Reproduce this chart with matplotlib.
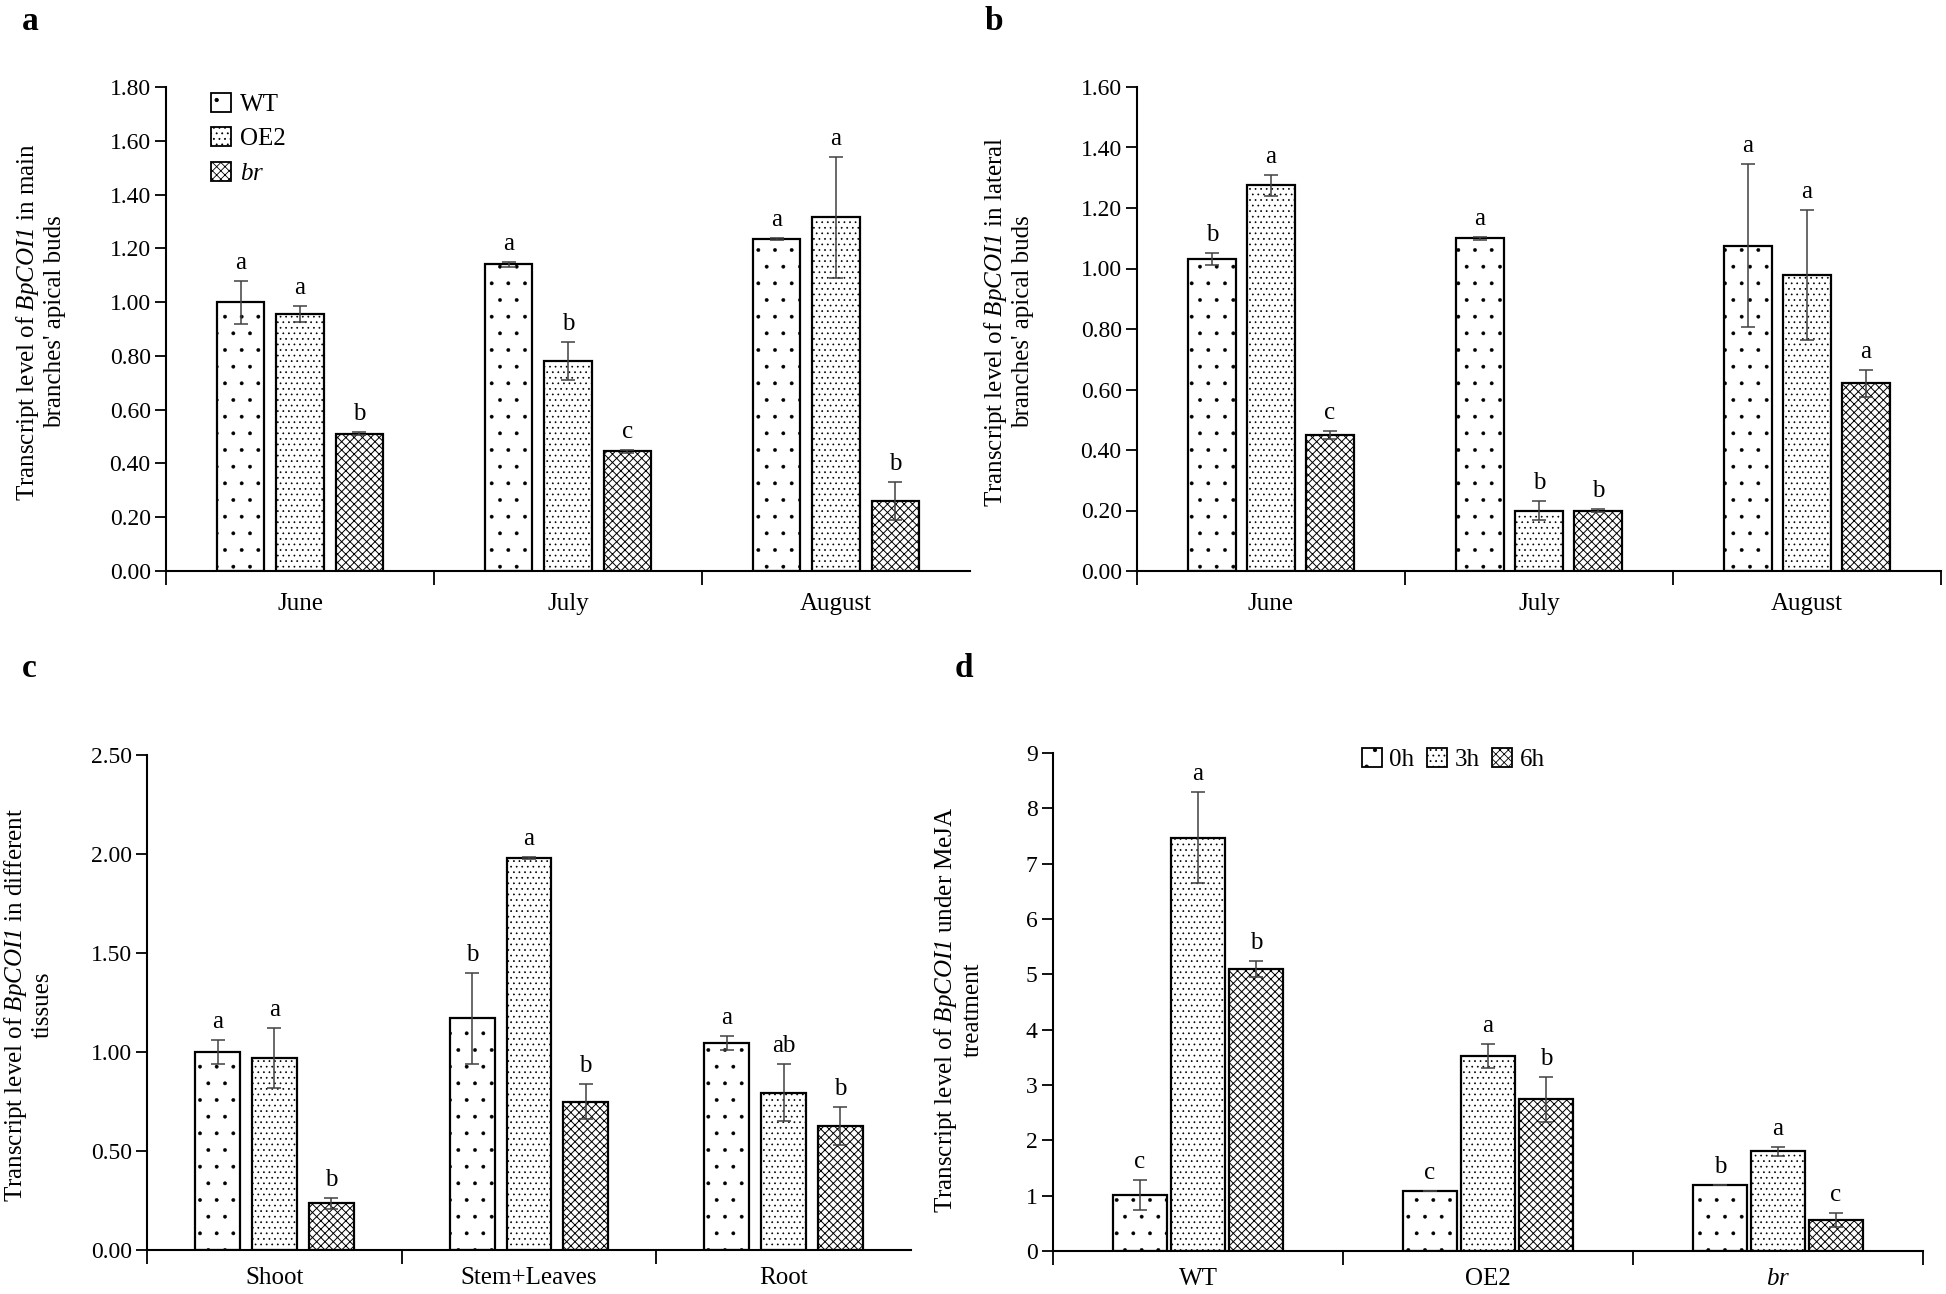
import matplotlib
matplotlib.use('Agg')
import matplotlib.pyplot as plt
import numpy as np
from matplotlib.patches import Patch

plt.rcParams['font.family'] = ['Liberation Serif', 'DejaVu Serif']
plt.rcParams['mathtext.fontset'] = 'custom'
plt.rcParams['mathtext.rm'] = 'Liberation Serif'
plt.rcParams['mathtext.it'] = 'Liberation Serif:italic'
plt.rcParams['mathtext.bf'] = 'Liberation Serif:italic'
plt.rcParams['hatch.linewidth'] = 0.6

# ---------------- data ----------------
months = ['June', 'July', 'August']
tissues = ['Shoot', 'Stem+Leaves', 'Root']
lines_d = ['WT', 'OE2', r'$\mathit{br}$']
series_abc = ['WT', 'OE2', r'$\mathit{br}$']
series_d = ['0h', '3h', '6h']

# panel a: main branches' apical buds
a_vals = [[1.00, 1.14, 1.235],   # WT
          [0.955, 0.78, 1.315],  # OE2
          [0.51, 0.445, 0.26]]   # br
a_errs = [[0.08, 0.01, 0.005],
          [0.03, 0.07, 0.225],
          [0.006, 0.006, 0.07]]
a_letters = [['a', 'a', 'a'],
             ['a', 'b', 'a'],
             ['b', 'c', 'b']]

# panel b: lateral branches' apical buds
b_vals = [[1.03, 1.10, 1.075],
          [1.275, 0.20, 0.98],
          [0.45, 0.20, 0.62]]
b_errs = [[0.02, 0.005, 0.27],
          [0.035, 0.03, 0.215],
          [0.012, 0.005, 0.045]]
b_letters = [['b', 'a', 'a'],
             ['a', 'b', 'a'],
             ['c', 'b', 'a']]

# panel c: tissues
c_vals = [[1.00, 1.17, 1.045],
          [0.97, 1.98, 0.795],
          [0.235, 0.75, 0.625]]
c_errs = [[0.06, 0.23, 0.035],
          [0.15, 0.005, 0.145],
          [0.03, 0.09, 0.095]]
c_letters = [['a', 'b', 'a'],
             ['a', 'a', 'ab'],
             ['b', 'b', 'b']]

# panel d: MeJA treatment
d_vals = [[1.02, 1.08, 1.20],   # 0h
          [7.47, 3.52, 1.80],   # 3h
          [5.10, 2.74, 0.56]]   # 6h
d_errs = [[0.27, 0.0, 0.0],
          [0.82, 0.22, 0.08],
          [0.15, 0.40, 0.13]]
d_letters = [['c', 'c', 'b'],
             ['a', 'a', 'a'],
             ['b', 'b', 'c']]

hatches = ['.', '...', 'xxxx']
hatch_lw = [0.3, 0.5, 0.7]

FS = 17

fig = plt.figure(figsize=(19.46, 12.94), dpi=100)


def set_hlw(p, lw):
    if hasattr(p, 'set_hatch_linewidth'):
        try:
            p.set_hatch_linewidth(lw)
        except Exception:
            pass


def draw_panel(rect, cats, vals, errs, letters, ylim, yticks, fmt,
               width, spacing, end_tick=True, xpad=16):
    ax = fig.add_axes(rect)
    n = len(cats)
    centers = np.arange(n) + 0.5
    for i in range(3):
        x = centers + (i - 1) * spacing
        bars = ax.bar(x, vals[i], width=width, facecolor='white', edgecolor='black',
                      linewidth=1.6, hatch=hatches[i], zorder=2)
        for p in bars:
            set_hlw(p, hatch_lw[i])
        ax.errorbar(x, vals[i], yerr=errs[i], fmt='none', ecolor='#404040',
                    elinewidth=1.1, capsize=5, capthick=1.1, zorder=3)
        for xi, v, e, L in zip(x, vals[i], errs[i], letters[i]):
            ax.annotate(L, (xi, v + e), xytext=(0, 5), textcoords='offset points',
                        ha='center', va='bottom', fontsize=FS + 1)
    ax.set_xlim(0, n)
    ax.set_ylim(*ylim)
    ax.set_yticks(yticks)
    ax.set_yticklabels([fmt.format(t) for t in yticks], fontsize=FS)
    bt = list(range(n + 1)) if end_tick else list(range(n))
    ax.set_xticks(bt)
    ax.set_xticklabels([''] * len(bt))
    ax.set_xticks(centers, minor=True)
    ax.set_xticklabels(cats, minor=True, fontsize=FS + 1)
    ax.tick_params(axis='x', which='major', direction='out', length=10, width=1.3)
    ax.tick_params(axis='x', which='minor', length=0, pad=xpad)
    ax.tick_params(axis='y', direction='out', length=8, width=1.3, pad=3)
    for s in ['top', 'right']:
        ax.spines[s].set_visible(False)
    for s in ['left', 'bottom']:
        ax.spines[s].set_linewidth(1.5)
    return ax


W, H = 1946.0, 1294.0


def rect(l, r, b, t):
    return [l / W, 1 - b / H, (r - l) / W, (b - t) / H]


ax_a = draw_panel(rect(166, 970, 571, 87), months, a_vals, a_errs, a_letters,
                  (0, 1.8), np.arange(0, 1.81, 0.2), '{:.2f}', 0.176, 0.222, end_tick=False)
ax_b = draw_panel(rect(1137, 1941, 571, 87), months, b_vals, b_errs, b_letters,
                  (0, 1.6), np.arange(0, 1.61, 0.2), '{:.2f}', 0.18, 0.22)
ax_c = draw_panel(rect(147, 911, 1250, 755), tissues, c_vals, c_errs, c_letters,
                  (0, 2.5), np.arange(0, 2.51, 0.5), '{:.2f}', 0.176, 0.223, end_tick=False,
                  xpad=12)
ax_d = draw_panel(rect(1053, 1923, 1251, 753), lines_d, d_vals, d_errs, d_letters,
                  (0, 9), np.arange(0, 10, 1), '{:.0f}', 0.183, 0.2, xpad=12)


def legend_handles():
    hs = []
    for h, lw in zip(hatches, hatch_lw):
        p = Patch(facecolor='white', edgecolor='black', hatch=h, linewidth=1.3)
        set_hlw(p, lw)
        hs.append(p)
    return hs


ax_a.legend(legend_handles(), series_abc, loc='upper left', bbox_to_anchor=(0.028, 1.035),
            frameon=False, fontsize=FS + 1, handlelength=0.8, handleheight=0.8,
            handletextpad=0.35, labelspacing=0.45)
ax_d.legend(legend_handles(), series_d, loc='upper center', bbox_to_anchor=(0.46, 1.055),
            ncol=3, frameon=False, fontsize=FS + 1, handlelength=0.8, handleheight=0.8,
            handletextpad=0.3, columnspacing=0.5)

# y labels
ylab_fs = 18
fig.text(40 / W, 1 - 322 / H,
         'Transcript level of $\\mathbf{BpCOI1}$ in main\nbranches\' apical buds',
         rotation=90, ha='center', va='center', fontsize=ylab_fs, multialignment='center')
fig.text(1008 / W, 1 - 322 / H,
         'Transcript level of $\\mathbf{BpCOI1}$ in lateral\nbranches\' apical buds',
         rotation=90, ha='center', va='center', fontsize=ylab_fs, multialignment='center')
fig.text(28 / W, 1 - 1005 / H,
         'Transcript level of $\\mathbf{BpCOI1}$ in different\ntissues',
         rotation=90, ha='center', va='center', fontsize=ylab_fs, multialignment='center')
fig.text(958 / W, 1 - 1010 / H,
         'Transcript level of $\\mathbf{BpCOI1}$ under MeJA\ntreatment',
         rotation=90, ha='center', va='center', fontsize=ylab_fs, multialignment='center')

# panel letters
for lab, x, y in [('a', 22, 22), ('b', 985, 22), ('c', 22, 668), ('d', 955, 668)]:
    fig.text(x / W, 1 - y / H, lab, fontsize=24, fontweight='bold', ha='left', va='center')

fig.savefig('out.png', dpi=100, facecolor='white')
